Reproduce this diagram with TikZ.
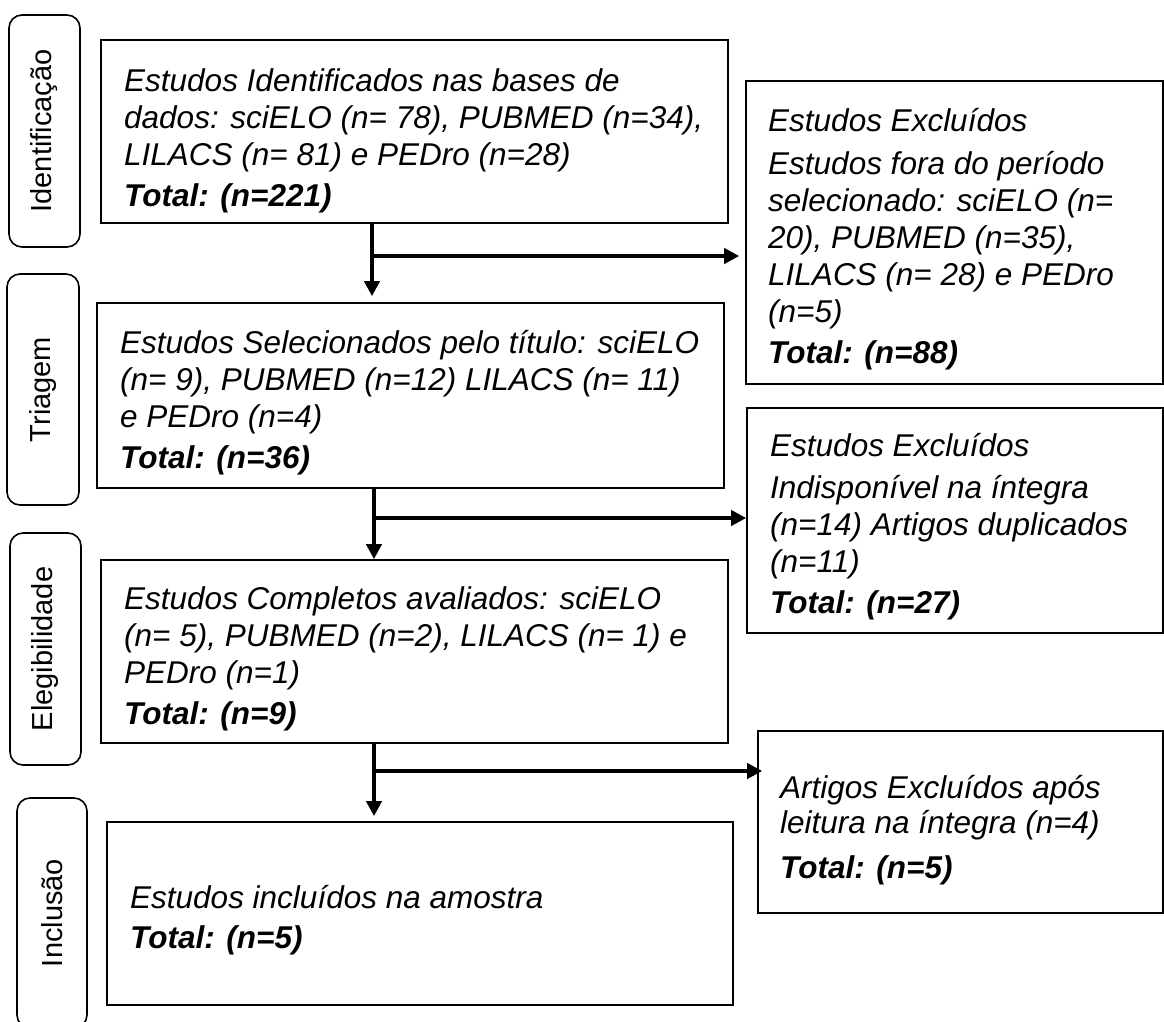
\documentclass[tikz,border=0pt]{standalone}
\usepackage{fontspec}
\setmainfont{Liberation Sans}
\usetikzlibrary{arrows.meta,calc}
\begin{document}
\begin{tikzpicture}[x=1pt,y=-1pt,
  box/.style={draw, line width=1.6pt, rectangle, inner sep=0pt},
  lab/.style={draw, line width=1.6pt, rounded corners=13pt, inner sep=0pt, rotate=90,
    font=\fontsize{29}{34}\selectfont},
  txt/.style={anchor=base west, inner sep=0pt, font=\fontsize{31.5}{37}\selectfont\itshape},
  arr/.style={line width=4pt, -{Triangle[length=15pt,width=15pt]}}]
\useasboundingbox (0,0) rectangle (1164,1021);
\clip (0,0) rectangle (1164,1021);

% phase labels
\node[lab, minimum width=232pt, minimum height=71pt] (l1) at (44.5,131) {Identificação};
\node[lab, minimum width=231pt, minimum height=72pt] (l2) at (43,389.5) {Triagem};
\node[lab, minimum width=232pt, minimum height=71pt] (l3) at (45.5,649) {Elegibilidade};
\node[lab, minimum width=230pt, minimum height=70pt] (l4) at (52,913) {Inclusão};

% main boxes
\node[box, minimum width=627.3pt, minimum height=183pt] (b1) at (414.35,131.5) {};
\node[box, minimum width=627pt, minimum height=185pt] (b2) at (410.5,395.5) {};
\node[box, minimum width=627pt, minimum height=183pt] (b3) at (414.5,651.5) {};
\node[box, minimum width=626pt, minimum height=183pt] (b4) at (420,913.5) {};

% exclusion boxes
\node[box, minimum width=417pt, minimum height=303pt] (r1) at (954.5,232.5) {};
\node[box, minimum width=416pt, minimum height=225pt] (r2) at (955,520.5) {};
\node[box, minimum width=405pt, minimum height=182pt] (r3) at (960.5,822) {};

% texts
\node[txt] (t1) at (124,91) {\vtop{\hbox{Estudos Identificados nas bases de}\hbox{dados: sciELO (n= 78), PUBMED (n=34),}\hbox{LILACS (n= 81) e PEDro (n=28)}\vskip4pt\hbox{\bfseries Total: (n=221)}}};
\node[txt] (t2) at (120,353) {\vtop{\hbox{Estudos Selecionados pelo título: sciELO}\hbox{(n= 9), PUBMED (n=12) LILACS (n= 11)}\hbox{e PEDro (n=4)}\vskip4pt\hbox{\bfseries Total: (n=36)}}};
\node[txt] (t3) at (124,609) {\vtop{\hbox{Estudos Completos avaliados: sciELO}\hbox{(n= 5), PUBMED (n=2), LILACS (n= 1) e}\hbox{PEDro (n=1)}\vskip4pt\hbox{\bfseries Total: (n=9)}}};
\node[txt] (t4) at (130,908) {\vtop{\hbox{Estudos incluídos na amostra}\vskip3pt\hbox{\bfseries Total: (n=5)}}};

\node[txt] (s1) at (768,131) {\vtop{\hbox{Estudos Excluídos}\vskip6pt\hbox{Estudos fora do período}\hbox{selecionado: sciELO (n=}\hbox{20), PUBMED (n=35),}\hbox{LILACS (n= 28) e PEDro}\hbox{(n=5)}\vskip4pt\hbox{\bfseries Total: (n=88)}}};
\node[txt] (s2) at (770,456) {\vtop{\hbox{Estudos Excluídos}\vskip5pt\hbox{Indisponível na íntegra}\hbox{(n=14) Artigos duplicados}\hbox{(n=11)}\vskip4pt\hbox{\bfseries Total: (n=27)}}};
\node[txt] (s3) at (780,798) {\vtop{\hbox{Artigos Excluídos após}\vskip-2pt\hbox{leitura na íntegra (n=4)}\vskip8pt\hbox{\bfseries Total: (n=5)}}};

% connectors
\coordinate (j1) at (372,256);
\coordinate (j2) at (374,518);
\coordinate (j3) at (374,771);
\draw[arr, shorten >=6pt] (b1.south -| j1) -- (b2.north -| j1);
\draw[arr, shorten >=6pt] (j1) -- (r1.west |- j1);
\draw[arr] (b2.south -| j2) -- (b3.north -| j2);
\draw[arr] (j2) -- (r2.west |- j2);
\draw[arr, shorten >=5pt] (b3.south -| j3) -- (b4.north -| j3);
\draw[arr, shorten >=-5pt] (j3) -- (r3.west |- j3);
\end{tikzpicture}
\end{document}
